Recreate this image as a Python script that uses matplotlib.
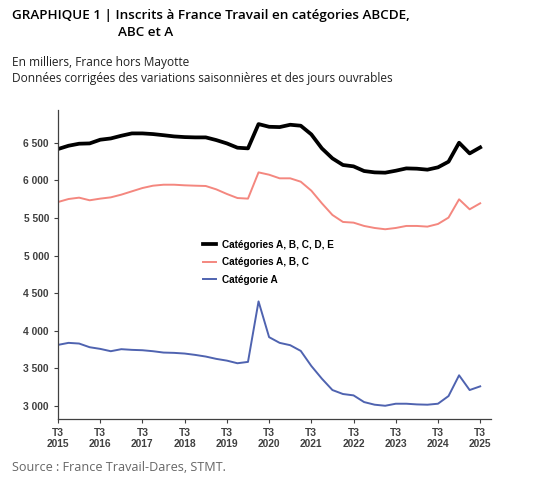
import numpy as np
import matplotlib
matplotlib.use('Agg')
from matplotlib import pyplot as plt
from matplotlib.ticker import FuncFormatter

# trimestres T3 2015 -> T3 2025
trimestres = list(range(41))
tick_pos = list(range(0, 41, 4))
tick_labels = ['T3\n%d' % a for a in range(2015, 2026)]

cat_abcde = [6416, 6460, 6487, 6491, 6540, 6557, 6593, 6624, 6624, 6615,
             6600, 6584, 6575, 6571, 6571, 6535, 6491, 6434, 6425, 6748,
             6712, 6708, 6739, 6726, 6611, 6425, 6292, 6204, 6186, 6124,
             6106, 6102, 6128, 6159, 6155, 6142, 6173, 6248, 6500, 6358,
             6438]
cat_abc = [5712, 5752, 5770, 5735, 5757, 5774, 5810, 5854, 5898, 5929,
           5942, 5942, 5934, 5929, 5925, 5880, 5819, 5765, 5757, 6106,
           6075, 6027, 6027, 5982, 5863, 5695, 5540, 5447, 5438, 5394,
           5367, 5350, 5367, 5394, 5394, 5385, 5420, 5505, 5748, 5615,
           5695]
cat_a = [3813, 3840, 3831, 3782, 3760, 3729, 3756, 3747, 3742, 3729,
         3711, 3707, 3698, 3680, 3658, 3627, 3604, 3569, 3587, 4391,
         3916, 3840, 3809, 3733, 3533, 3364, 3213, 3160, 3142, 3053,
         3018, 3004, 3031, 3031, 3022, 3018, 3031, 3133, 3409, 3213,
         3262]

fig = plt.figure(figsize=(5.34, 4.90), dpi=100)
ax = fig.add_axes([0.1086, 0.1449, 0.8104, 0.6306])

ax.plot(trimestres, cat_abcde, color='black', lw=2.7, label='Catégories A, B, C, D, E')
ax.plot(trimestres, cat_abc, color='#f4877f', lw=1.4, label='Catégories A, B, C')
ax.plot(trimestres, cat_a, color='#4f63b0', lw=1.4, label='Catégorie A')

ax.set_xlim(0, 41)
ax.set_ylim(2828, 6935)
ax.set_yticks([3000, 3500, 4000, 4500, 5000, 5500, 6000, 6500])
ax.yaxis.set_major_formatter(FuncFormatter(lambda v, p: '{:,.0f}'.format(v).replace(',', ' ')))
ax.set_xticks(tick_pos)
ax.set_xticklabels(tick_labels, linespacing=1.1)

for s in ['top', 'right']:
    ax.spines[s].set_visible(False)
for s in ['left', 'bottom']:
    ax.spines[s].set_color('#404040')
    ax.spines[s].set_linewidth(0.9)
ax.tick_params(axis='both', direction='out', length=3, width=0.8, colors='#404040',
               labelsize=7.4, labelcolor='#404040')
for lab in ax.get_xticklabels() + ax.get_yticklabels():
    lab.set_fontfamily('Liberation Sans')
    lab.set_fontweight('bold')

leg = ax.legend(loc='upper left', bbox_to_anchor=(0.315, 0.61), frameon=False,
                prop={'family': 'Liberation Sans', 'weight': 'bold', 'size': 7.2},
                handlelength=1.3, handletextpad=0.6, labelspacing=0.75)

fig.text(0.022, 0.968, 'GRAPHIQUE 1 | Inscrits à France Travail en catégories ABCDE,',
         family='Open Sans', weight='semibold', fontsize=9.7, va='center', color='black')
fig.text(0.221, 0.933, 'ABC et A',
         family='Open Sans', weight='semibold', fontsize=9.7, va='center', color='black')
fig.text(0.022, 0.872, 'En milliers, France hors Mayotte',
         family='Open Sans', fontsize=8.6, va='center', color='#222222')
fig.text(0.022, 0.84, 'Données corrigées des variations saisonnières et des jours ouvrables',
         family='Open Sans', fontsize=8.6, va='center', color='#222222')
fig.text(0.022, 0.045, 'Source : France Travail-Dares, STMT.',
         family='Open Sans', fontsize=9.1, va='center', color='#666666')

plt.savefig('out.png', dpi=100)
